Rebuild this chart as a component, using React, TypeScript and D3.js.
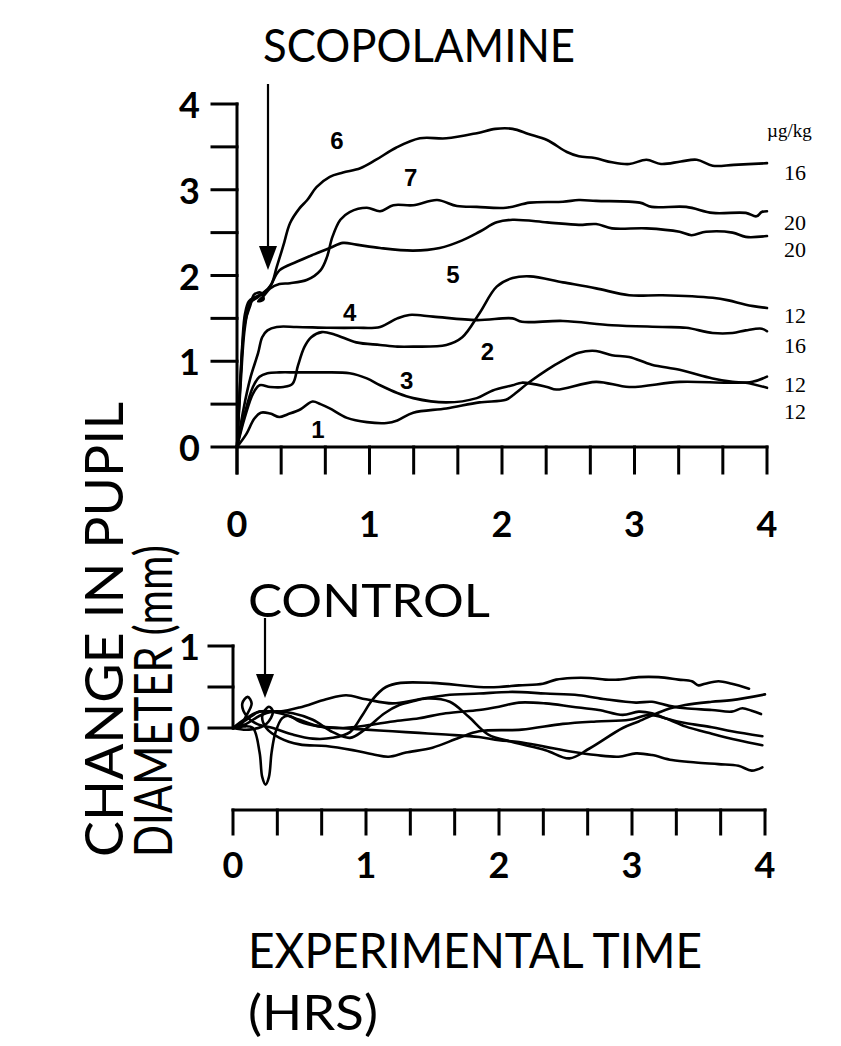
import React from "react";
import * as d3 from "d3";

type P = [number, number];

// ---------- data ----------
const hourTicks: number[] = d3.range(0, 13).map((i) => i / 3);
const hourLabels: number[] = [0, 1, 2, 3, 4];
const topYTicks: number[] = [0, 0.5, 1, 1.5, 2, 2.5, 3, 3.5, 4];
const topYLabels: number[] = [0, 1, 2, 3, 4];
const botYTicks: number[] = [0, 0.5, 1];
const botYLabels: number[] = [0, 1];

// Scopolamine curves (hours, mm)
const scop1: P[] = [[0,0],[0.07,0.15],[0.13,0.33],[0.18,0.4],[0.25,0.39],[0.32,0.35],[0.38,0.38],[0.48,0.44],[0.57,0.53],[0.63,0.5],[0.7,0.45],[0.83,0.34],[0.98,0.29],[1.13,0.28],[1.21,0.31],[1.33,0.4],[1.58,0.45],[1.83,0.52],[2.03,0.55],[2.08,0.6],[2.21,0.76],[2.34,0.9],[2.46,1.01],[2.58,1.1],[2.71,1.12],[2.83,1.07],[2.96,1.05],[3.13,0.96],[3.34,0.9],[3.59,0.8],[3.74,0.76],[3.84,0.75],[4.0,0.69]];
const scop2: P[] = [[0,0],[0.06,0.35],[0.12,0.62],[0.17,0.72],[0.25,0.7],[0.35,0.7],[0.42,0.74],[0.46,0.95],[0.51,1.17],[0.56,1.28],[0.64,1.34],[0.74,1.31],[0.9,1.22],[1.08,1.19],[1.21,1.17],[1.33,1.17],[1.58,1.19],[1.7,1.28],[1.83,1.56],[1.96,1.87],[2.08,1.97],[2.21,1.99],[2.46,1.92],[2.71,1.85],[2.96,1.77],[3.21,1.77],[3.59,1.74],[3.71,1.71],[3.84,1.66],[4.0,1.62]];
const scop3: P[] = [[0,0],[0.06,0.4],[0.12,0.7],[0.17,0.82],[0.23,0.86],[0.32,0.87],[0.45,0.87],[0.63,0.87],[0.85,0.86],[0.98,0.8],[1.08,0.72],[1.21,0.63],[1.33,0.57],[1.58,0.52],[1.81,0.57],[1.93,0.66],[2.08,0.72],[2.15,0.75],[2.34,0.7],[2.41,0.67],[2.71,0.76],[2.96,0.7],[3.34,0.76],[3.71,0.75],[3.89,0.76],[4.0,0.82]];
const scop4: P[] = [[0,0],[0.05,0.45],[0.1,0.8],[0.16,1.1],[0.19,1.28],[0.23,1.36],[0.3,1.4],[0.45,1.4],[0.7,1.39],[0.9,1.39],[1.08,1.4],[1.21,1.5],[1.3,1.54],[1.48,1.52],[1.81,1.48],[2.08,1.5],[2.15,1.46],[2.46,1.47],[2.83,1.42],[3.21,1.4],[3.39,1.39],[3.59,1.33],[3.74,1.33],[3.84,1.36],[3.96,1.38],[4.0,1.35]];
const scop5: P[] = [[0,0],[0.03,0.8],[0.06,1.4],[0.1,1.68],[0.16,1.75],[0.24,1.85],[0.32,2.06],[0.45,2.16],[0.57,2.24],[0.7,2.32],[0.8,2.38],[0.9,2.36],[1.08,2.32],[1.33,2.29],[1.53,2.32],[1.7,2.41],[1.83,2.51],[1.96,2.62],[2.08,2.65],[2.34,2.62],[2.58,2.59],[2.71,2.6],[2.83,2.55],[3.09,2.55],[3.34,2.51],[3.43,2.47],[3.54,2.51],[3.74,2.5],[3.84,2.45],[4.0,2.46]];
const scop6: P[] = [[0,0],[0.02,0.6],[0.04,1.2],[0.06,1.55],[0.09,1.7],[0.14,1.75],[0.2,1.8],[0.26,1.9],[0.3,2.1],[0.35,2.35],[0.4,2.61],[0.47,2.78],[0.53,2.88],[0.6,3.03],[0.7,3.15],[0.8,3.2],[0.93,3.25],[1.05,3.35],[1.2,3.49],[1.38,3.6],[1.58,3.6],[1.81,3.66],[1.95,3.71],[2.08,3.71],[2.2,3.65],[2.34,3.58],[2.49,3.44],[2.58,3.39],[2.7,3.37],[2.83,3.32],[2.96,3.3],[3.09,3.35],[3.2,3.3],[3.35,3.33],[3.47,3.35],[3.59,3.28],[3.75,3.29],[4.0,3.31]];
const scop7: P[] = [[0,0],[0.03,0.9],[0.06,1.45],[0.1,1.65],[0.13,1.78],[0.18,1.8],[0.2,1.72],[0.16,1.7],[0.2,1.76],[0.25,1.85],[0.32,1.9],[0.4,1.91],[0.53,1.95],[0.63,2.06],[0.68,2.22],[0.72,2.45],[0.78,2.65],[0.85,2.74],[0.98,2.79],[1.08,2.75],[1.18,2.82],[1.33,2.82],[1.51,2.88],[1.66,2.81],[1.81,2.8],[2.03,2.79],[2.21,2.85],[2.46,2.86],[2.58,2.88],[2.71,2.87],[3.04,2.85],[3.13,2.8],[3.39,2.8],[3.59,2.73],[3.84,2.73],[3.92,2.69],[3.96,2.74],[4.0,2.75]];
const scopCurves: P[][] = [scop1, scop2, scop3, scop4, scop5, scop6, scop7];

const curveNames: string[] = ["6", "7", "5", "4", "2", "3", "1"];
const curveNamePos: P[] = [[0.755, 3.58], [1.31, 3.14], [1.63, 2.01], [0.85, 1.57], [1.89, 1.11], [1.28, 0.78], [0.61, 0.2]];

const doseUnit = "\u00b5g/kg";
const doses: string[] = ["16", "20", "20", "12", "16", "12", "12"];
const dosePos: number[] = [3.2, 2.62, 2.3, 1.53, 1.18, 0.73, 0.41];

// Control curves (hours, mm)
const ctl1: P[] = [[0,0],[0.05,0.02],[0.1,0.15],[0.14,0.3],[0.11,0.38],[0.07,0.3],[0.1,0.15],[0.18,0.05],[0.3,0.0],[0.45,-0.08],[0.6,-0.13],[0.75,-0.12],[0.88,-0.05],[0.97,0.15],[1.05,0.35],[1.15,0.5],[1.26,0.55],[1.5,0.55],[1.85,0.5],[2.0,0.5],[2.15,0.52],[2.33,0.54],[2.43,0.59],[2.55,0.61],[2.68,0.61],[2.8,0.59],[2.9,0.59],[3.05,0.62],[3.2,0.62],[3.35,0.59],[3.45,0.57],[3.5,0.52],[3.55,0.54],[3.65,0.57],[3.75,0.54],[3.88,0.48]];
const ctl2: P[] = [[0,0],[0.1,0.05],[0.2,0.15],[0.3,0.2],[0.45,0.18],[0.6,0.1],[0.75,-0.05],[0.88,-0.12],[0.99,-0.02],[1.14,0.18],[1.25,0.28],[1.34,0.32],[1.46,0.36],[1.63,0.32],[1.77,0.14],[1.92,-0.08],[2.1,-0.17],[2.35,-0.27],[2.53,-0.37],[2.68,-0.25],[2.93,0.0],[3.05,0.08],[3.25,0.22],[3.4,0.28],[3.6,0.32],[3.75,0.34],[4.0,0.41]];
const ctl3: P[] = [[0,0],[0.1,0.1],[0.2,0.2],[0.35,0.2],[0.5,0.25],[0.7,0.35],[0.85,0.4],[1.0,0.35],[1.2,0.3],[1.4,0.35],[1.6,0.4],[1.85,0.42],[2.1,0.44],[2.35,0.42],[2.6,0.4],[2.8,0.35],[3.03,0.31],[3.15,0.32],[3.28,0.27],[3.4,0.24],[3.6,0.22],[3.75,0.2],[3.83,0.24],[3.9,0.21],[3.97,0.17]];
const ctl4: P[] = [[0,0],[0.1,0.12],[0.2,0.2],[0.35,0.18],[0.5,0.1],[0.65,0.02],[0.8,0.0],[1.0,0.03],[1.2,0.08],[1.4,0.12],[1.6,0.18],[1.85,0.22],[2.0,0.26],[2.15,0.31],[2.35,0.3],[2.55,0.26],[2.75,0.22],[2.93,0.16],[3.05,0.2],[3.15,0.18],[3.25,0.12],[3.4,0.06],[3.6,0.01],[3.75,-0.04],[3.98,-0.1]];
const ctl5: P[] = [[0,0],[0.12,-0.02],[0.25,0.05],[0.3,0.2],[0.27,0.26],[0.22,0.15],[0.25,0.0],[0.35,-0.12],[0.5,-0.2],[0.7,-0.22],[0.9,-0.27],[1.05,-0.32],[1.17,-0.35],[1.3,-0.3],[1.5,-0.24],[1.7,-0.12],[1.85,-0.04],[2.17,-0.02],[2.48,0.05],[2.73,0.08],[2.98,0.1],[3.13,0.16],[3.25,0.12],[3.4,0.02],[3.6,-0.07],[3.8,-0.15],[3.98,-0.21]];
const ctl6: P[] = [[0,0],[0.08,0.02],[0.15,0.0],[0.2,-0.3],[0.22,-0.6],[0.245,-0.69],[0.27,-0.6],[0.29,-0.3],[0.32,-0.05],[0.37,0.12],[0.42,0.15],[0.5,0.08],[0.65,0.02],[0.8,0.0],[1.0,-0.02],[1.2,-0.04],[1.4,-0.06],[1.6,-0.08],[1.85,-0.11],[2.0,-0.15],[2.15,-0.17],[2.35,-0.23],[2.55,-0.29],[2.73,-0.33],[2.9,-0.35],[3.03,-0.31],[3.15,-0.33],[3.3,-0.39],[3.48,-0.42],[3.65,-0.44],[3.8,-0.46],[3.9,-0.52],[3.98,-0.48]];
const ctlCurves: P[][] = [ctl1, ctl2, ctl3, ctl4, ctl5, ctl6];

// ---------- layout ----------
const W = 841;
const H = 1046;
const xTop = d3.scaleLinear().domain([0, 4]).range([237, 767]);
const yTop = d3.scaleLinear().domain([0, 4]).range([447, 104]);
const xBot = d3.scaleLinear().domain([0, 4]).range([233, 765]);
const yBot = d3.scaleLinear().domain([0, 1]).range([728, 646]);
const botAxisY = 810;

const SANS = "Lato, 'Open Sans', 'DejaVu Sans', sans-serif";
const SERIF = "'Liberation Serif', 'DejaVu Serif', serif";

function Arrow({ x, y1, y2 }: { x: number; y1: number; y2: number }) {
  const hh = 24;
  const hw = 9;
  return (
    <g>
      <line x1={x} x2={x} y1={y1} y2={y2 - hh + 2} stroke="#000" strokeWidth={2.2} />
      <path d={`M${x - hw},${y2 - hh} L${x + hw},${y2 - hh} L${x},${y2} Z`} fill="#000" />
    </g>
  );
}

export default function App() {
  const lineTop = d3
    .line<P>()
    .x((d) => xTop(d[0]))
    .y((d) => yTop(d[1]))
    .curve(d3.curveCatmullRom.alpha(0.5));
  const lineBot = d3
    .line<P>()
    .x((d) => xBot(d[0]))
    .y((d) => yBot(d[1]))
    .curve(d3.curveCatmullRom.alpha(0.5));

  return (
    <svg
      width={W}
      height={H}
      viewBox={`0 0 ${W} ${H}`}
      style={{ position: "absolute", left: 0, top: 0, background: "#fff" }}
    >
      <rect x={0} y={0} width={W} height={H} fill="#fff" />

      {/* Titles */}
      <text x={263} y={62} fontFamily={SANS} fontSize={46} textLength={312} lengthAdjust="spacingAndGlyphs">
        SCOPOLAMINE
      </text>
      <text x={248} y={617} fontFamily={SANS} fontSize={46} textLength={242} lengthAdjust="spacingAndGlyphs">
        CONTROL
      </text>
      <text x={248} y={968} fontFamily={SANS} fontSize={48} textLength={454} lengthAdjust="spacingAndGlyphs">
        EXPERIMENTAL TIME
      </text>
      <text x={248} y={1030} fontFamily={SANS} fontSize={48} textLength={130} lengthAdjust="spacingAndGlyphs">
        (HRS)
      </text>
      <text
        transform="translate(123,857) rotate(-90)"
        fontFamily={SANS}
        fontSize={52}
        textLength={455}
        lengthAdjust="spacingAndGlyphs"
      >
        CHANGE IN PUPIL
      </text>
      <text
        transform="translate(172,857) rotate(-90)"
        fontFamily={SANS}
        fontSize={52}
        textLength={312}
        lengthAdjust="spacingAndGlyphs"
      >
        DIAMETER (mm)
      </text>

      {/* ---------- top chart ---------- */}
      <g stroke="#000" strokeWidth={3} fill="none" strokeLinecap="square">
        <line x1={xTop(0)} x2={xTop(0)} y1={yTop(4)} y2={yTop(0) + 26} />
        <line x1={xTop(0)} x2={xTop(4)} y1={yTop(0)} y2={yTop(0)} />
        {topYTicks.map((t) => (
          <line key={"ty" + t} x1={xTop(0) - 25} x2={xTop(0)} y1={yTop(t)} y2={yTop(t)} />
        ))}
        {hourTicks.map((t) => (
          <line key={"tx" + t} x1={xTop(t)} x2={xTop(t)} y1={yTop(0)} y2={yTop(0) + 26} />
        ))}
      </g>
      {topYLabels.map((t) => (
        <text
          key={"tyl" + t}
          x={200}
          y={yTop(t)}
          textAnchor="end"
          dominantBaseline="central"
          fontFamily={SANS}
          fontWeight={700}
          fontSize={36}
        >
          {t}
        </text>
      ))}
      {hourLabels.map((t) => (
        <text
          key={"txl" + t}
          x={xTop(t)}
          y={yTop(0) + 76}
          textAnchor="middle"
          dominantBaseline="central"
          fontFamily={SANS}
          fontWeight={700}
          fontSize={36}
        >
          {t}
        </text>
      ))}
      <g fill="none" stroke="#000" strokeWidth={2.6} strokeLinejoin="round" strokeLinecap="round">
        {scopCurves.map((c, i) => (
          <path key={"sc" + i} d={lineTop(c) || ""} />
        ))}
      </g>
      <Arrow x={268} y1={84} y2={270} />
      {curveNames.map((n, i) => (
        <text
          key={"cn" + i}
          x={xTop(curveNamePos[i][0])}
          y={yTop(curveNamePos[i][1])}
          textAnchor="middle"
          dominantBaseline="central"
          fontFamily="'Liberation Sans', Arial, sans-serif"
          fontWeight={700}
          fontSize={24}
        >
          {n}
        </text>
      ))}
      <text x={767} y={yTop(3.62)} fontFamily={SERIF} fontSize={19}>
        {doseUnit}
      </text>
      {doses.map((d, i) => (
        <text key={"ds" + i} x={784} y={yTop(dosePos[i])} fontFamily={SERIF} fontSize={22} dominantBaseline="central">
          {d}
        </text>
      ))}

      {/* ---------- bottom chart ---------- */}
      <g stroke="#000" strokeWidth={3} fill="none" strokeLinecap="square">
        <line x1={xBot(0)} x2={xBot(0)} y1={yBot(1)} y2={yBot(0)} />
        {botYTicks.map((t) => (
          <line key={"by" + t} x1={xBot(0) - 24} x2={xBot(0)} y1={yBot(t)} y2={yBot(t)} />
        ))}
        <line x1={xBot(0)} x2={xBot(4)} y1={botAxisY} y2={botAxisY} />
        {hourTicks.map((t) => (
          <line key={"bx" + t} x1={xBot(t)} x2={xBot(t)} y1={botAxisY} y2={botAxisY + 24} />
        ))}
      </g>
      {botYLabels.map((t) => (
        <text
          key={"byl" + t}
          x={200}
          y={yBot(t)}
          textAnchor="end"
          dominantBaseline="central"
          fontFamily={SANS}
          fontWeight={700}
          fontSize={36}
        >
          {t}
        </text>
      ))}
      {hourLabels.map((t) => (
        <text
          key={"bxl" + t}
          x={xBot(t)}
          y={botAxisY + 54}
          textAnchor="middle"
          dominantBaseline="central"
          fontFamily={SANS}
          fontWeight={700}
          fontSize={36}
        >
          {t}
        </text>
      ))}
      <g fill="none" stroke="#000" strokeWidth={2.6} strokeLinejoin="round" strokeLinecap="round">
        {ctlCurves.map((c, i) => (
          <path key={"cc" + i} d={lineBot(c) || ""} />
        ))}
      </g>
      <Arrow x={265} y1={618} y2={698} />
    </svg>
  );
}
